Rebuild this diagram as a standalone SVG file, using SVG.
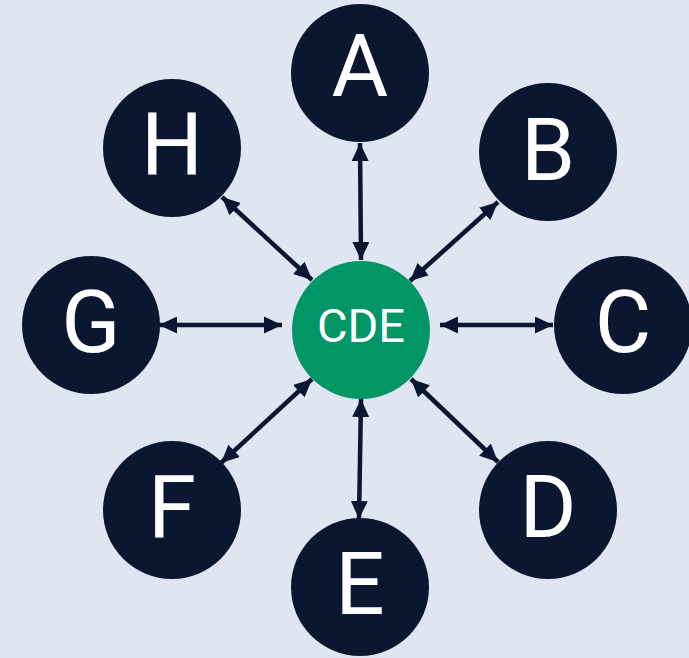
<svg xmlns="http://www.w3.org/2000/svg" width="689" height="658" viewBox="0 0 689 658">
  <defs>
    <style>
      .node { fill: #0b1730; }
      .hub { fill: #029566; }
      .lbl { fill: #ffffff; font-family: Roboto, "Noto Sans", sans-serif; font-size: 87px; text-anchor: middle; }
      .hub-lbl { fill: #ffffff; font-family: Roboto, "Noto Sans", sans-serif; font-size: 47px; text-anchor: middle; }
      .link { stroke: #0b1730; stroke-width: 4.5; fill: none; marker-start: url(#head); marker-end: url(#head); }
    </style>
    <marker id="head" viewBox="0 0 18 17" refX="18" refY="8.5" markerWidth="18" markerHeight="17" markerUnits="userSpaceOnUse" orient="auto-start-reverse">
      <path d="M0,0 L18,8.5 L0,17 Z" fill="#0b1730"/>
    </marker>
  </defs>

  <rect width="689" height="658" fill="#dfe5f1"/>

  <!-- connectors: hub to each outer node, arrow at both ends -->
  <g id="connectors">
    <line class="link" x1="361" y1="260" x2="360" y2="143"/>
    <line class="link" x1="410" y1="281" x2="498" y2="202"/>
    <line class="link" x1="440" y1="325" x2="553" y2="325"/>
    <line class="link" x1="411" y1="379" x2="498" y2="462"/>
    <line class="link" x1="361" y1="399" x2="359" y2="519"/>
    <line class="link" x1="312" y1="379" x2="221" y2="463"/>
    <line class="link" x1="282" y1="325" x2="159" y2="325"/>
    <line class="link" x1="312" y1="280" x2="222" y2="197"/>
  </g>

  <g id="node-cde">
    <circle class="hub" cx="361" cy="330" r="69"/>
    <text class="hub-lbl" x="361" y="342">CDE</text>
  </g>
  <g id="node-a">
    <circle class="node" cx="360" cy="73" r="69"/>
    <text class="lbl" x="360" y="96">A</text>
  </g>
  <g id="node-b">
    <circle class="node" cx="548" cy="152" r="69"/>
    <text class="lbl" x="548" y="180">B</text>
  </g>
  <g id="node-c">
    <circle class="node" cx="623" cy="325" r="69"/>
    <text class="lbl" x="623" y="352">C</text>
  </g>
  <g id="node-d">
    <circle class="node" cx="548" cy="510" r="69"/>
    <text class="lbl" x="548" y="537">D</text>
  </g>
  <g id="node-e">
    <circle class="node" cx="360" cy="587" r="69"/>
    <text class="lbl" x="360" y="614">E</text>
  </g>
  <g id="node-f">
    <circle class="node" cx="172" cy="510" r="69"/>
    <text class="lbl" x="172" y="537">F</text>
  </g>
  <g id="node-g">
    <circle class="node" cx="91" cy="325" r="69"/>
    <text class="lbl" x="91" y="352">G</text>
  </g>
  <g id="node-h">
    <circle class="node" cx="172" cy="148" r="69"/>
    <text class="lbl" x="172" y="175">H</text>
  </g>
</svg>
